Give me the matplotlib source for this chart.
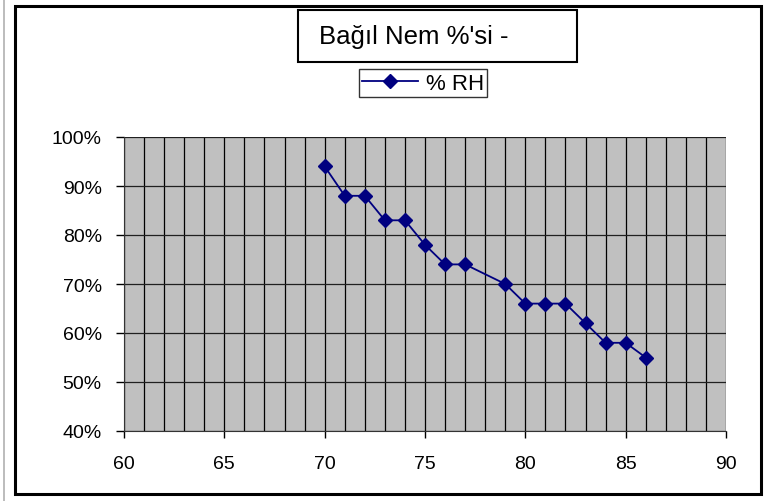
import matplotlib
matplotlib.use('Agg')
import matplotlib.pyplot as plt
from matplotlib.patches import Rectangle
from matplotlib.ticker import MultipleLocator, FuncFormatter

plt.rcParams['font.family'] = ['Liberation Sans', 'DejaVu Sans']

# veri
sicaklik = [70, 71, 72, 73, 74, 75, 76, 77, 79, 80, 81, 82, 83, 84, 85, 86]
nem = [94, 88, 88, 83, 83, 78, 74, 74, 70, 66, 66, 66, 62, 58, 58, 55]
baslik = "Bağıl Nem %'si -"
seri_adi = "% RH"

fig = plt.figure(figsize=(7.66, 5.02), dpi=100)
W, H = 766, 502

def px(x0, y0, x1, y1):
    # piksel kutusu -> figure koordinatlari
    return (x0 / W, 1 - y1 / H), (x1 - x0) / W, (y1 - y0) / H

# dis cerceve
xy, w, h = px(15, 6.5, 761, 494.5)
fig.patches.append(Rectangle(xy, w, h, transform=fig.transFigure, fill=False,
                             edgecolor='black', linewidth=2.2))
fig.add_artist(plt.Line2D([4 / W, 4 / W], [0, 1], transform=fig.transFigure,
                          color='#b0b0b0', linewidth=1.2))

ax = fig.add_axes([124 / W, 1 - 432 / H, (726 - 124) / W, (432 - 138) / H])
ax.set_facecolor('#c0c0c0')
ax.plot(sicaklik, nem, color='#000080', marker='D', markersize=7.5,
        linewidth=1.3, label=seri_adi, zorder=3)
ax.set_xlim(60, 90)
ax.set_ylim(40, 100)
ax.xaxis.set_major_locator(MultipleLocator(5))
ax.xaxis.set_minor_locator(MultipleLocator(1))
ax.yaxis.set_major_locator(MultipleLocator(10))
ax.yaxis.set_major_formatter(FuncFormatter(lambda v, p: '%d%%' % v))
ax.grid(True, which='both', axis='x', color='black', linewidth=0.9)
ax.grid(True, which='major', axis='y', color='#202020', linewidth=0.9)
ax.set_axisbelow(True)
for s in ['top', 'right']:
    ax.spines[s].set_visible(False)
ax.spines['left'].set_color('#333333')
ax.spines['bottom'].set_color('#333333')
ax.tick_params(axis='both', which='major', labelsize=14, width=1)
ax.tick_params(axis='x', which='minor', length=0)
ax.tick_params(axis='x', which='major', length=5, pad=12)
ax.tick_params(axis='y', which='major', length=6, pad=10)

# baslik kutusu
xy, w, h = px(298, 10.5, 577, 63)
fig.patches.append(Rectangle(xy, w, h, transform=fig.transFigure, fill=False,
                             edgecolor='black', linewidth=1.5))
fig.text(319 / W, 1 - 37 / H, baslik, fontsize=18.5, va='center', ha='left')

leg = ax.legend(loc='center', bbox_to_anchor=(423 / W, 1 - 84 / H),
                bbox_transform=fig.transFigure, fontsize=16, frameon=True,
                fancybox=False, handlelength=2.5, borderpad=0.15,
                handletextpad=0.35, borderaxespad=0)
leg.get_frame().set_edgecolor('black')
leg.get_frame().set_linewidth(1.0)

fig.savefig('out.png', dpi=100)
